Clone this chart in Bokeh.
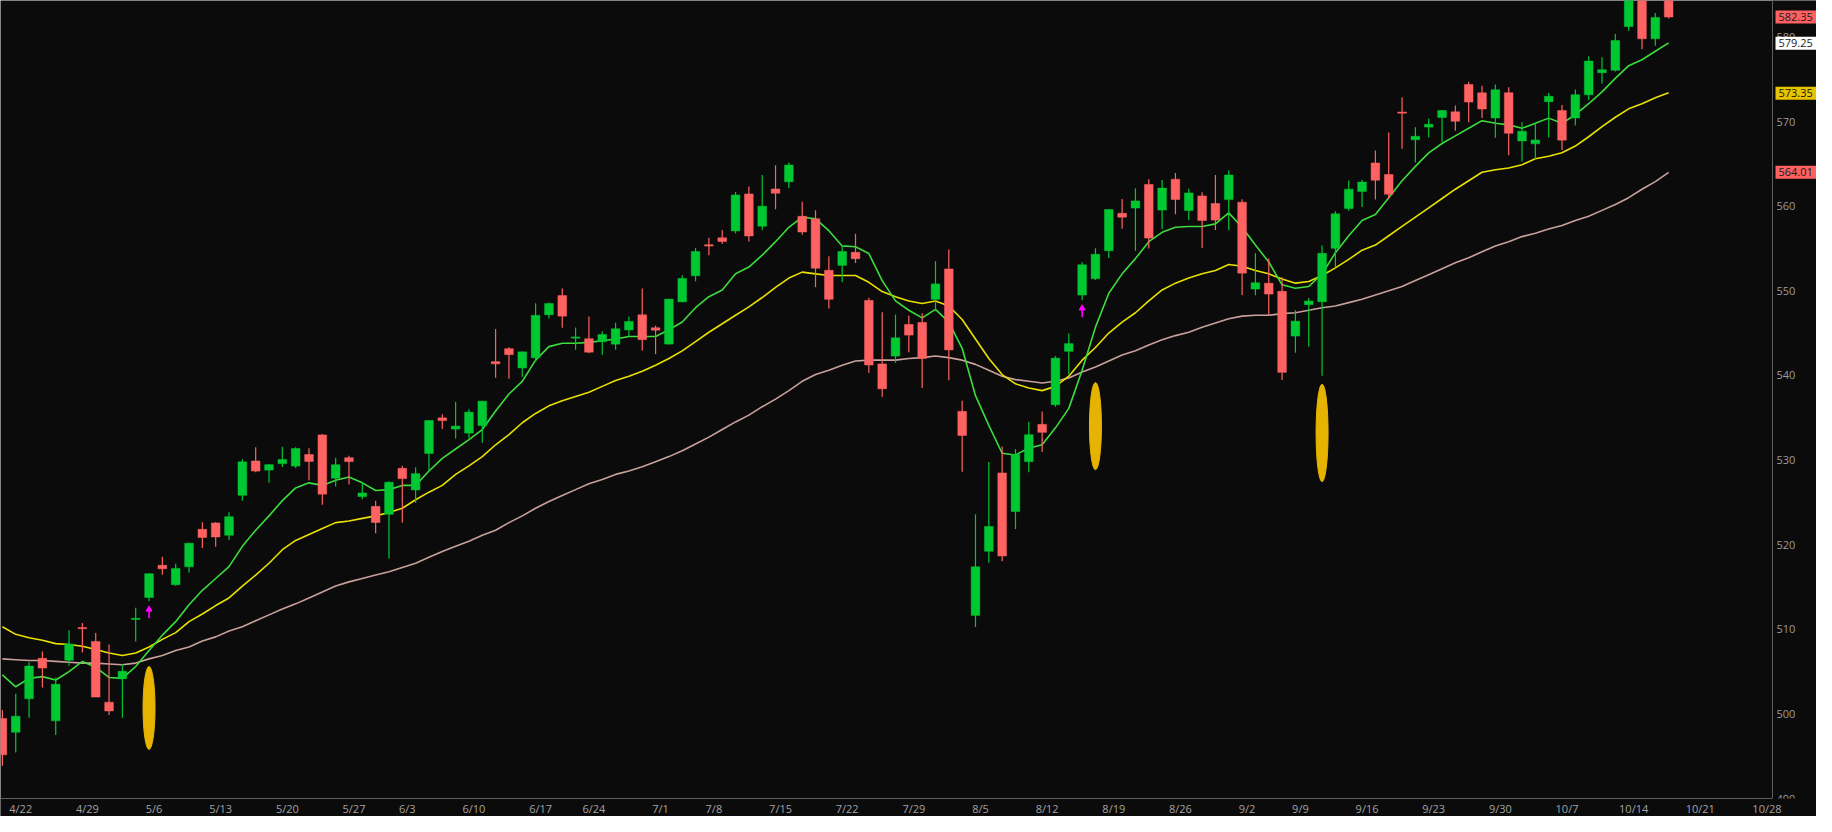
from bokeh.plotting import figure
from bokeh.models import Range1d, ColumnDataSource
from bokeh.embed import file_html
from bokeh.resources import INLINE
from bokeh.core.properties import value

# ---------------- data ----------------
dates = ["4/19", "4/22", "4/23", "4/24", "4/25", "4/26", "4/29", "4/30",
         "5/1", "5/2", "5/3", "5/6", "5/7", "5/8", "5/9", "5/10",
         "5/13", "5/14", "5/15", "5/16", "5/17", "5/20", "5/21", "5/22", "5/23", "5/24",
         "5/28", "5/29", "5/30", "5/31",
         "6/3", "6/4", "6/5", "6/6", "6/7", "6/10", "6/11", "6/12", "6/13", "6/14",
         "6/17", "6/18", "6/20", "6/21", "6/24", "6/25", "6/26", "6/27", "6/28",
         "7/1", "7/2", "7/3", "7/5", "7/8", "7/9", "7/10", "7/11", "7/12",
         "7/15", "7/16", "7/17", "7/18", "7/19", "7/22", "7/23", "7/24", "7/25", "7/26",
         "7/29", "7/30", "7/31", "8/1", "8/2",
         "8/5", "8/6", "8/7", "8/8", "8/9", "8/12", "8/13", "8/14", "8/15", "8/16",
         "8/19", "8/20", "8/21", "8/22", "8/23", "8/26", "8/27", "8/28", "8/29", "8/30",
         "9/3", "9/4", "9/5", "9/6", "9/9", "9/10", "9/11", "9/12", "9/13",
         "9/16", "9/17", "9/18", "9/19", "9/20", "9/23", "9/24", "9/25", "9/26", "9/27",
         "9/30", "10/1", "10/2", "10/3", "10/4", "10/7", "10/8", "10/9", "10/10", "10/11",
         "10/14", "10/15", "10/16", "10/17"]

opens = [499.44, 497.83, 501.78, 506.56, 499.18, 506.35, 510.09, 508.56,
         501.38, 504.15, 511.16, 513.75, 517.56, 515.26, 517.38, 521.81,
         522.56, 521.11, 525.83, 529.88, 528.81, 529.57, 529.28, 530.65, 532.96, 527.85,
         530.27, 525.68, 524.52, 523.59,
         529.02, 526.46, 530.77, 534.98, 533.66, 533.18, 534.07, 541.63, 543.15, 540.88,
         542.08, 547.16, 549.44, 544.40, 544.33, 543.99, 543.69, 545.37, 547.16,
         545.63, 543.70, 548.69, 551.77, 555.44, 556.26, 557.07, 561.44, 557.63,
         562.03, 562.87, 558.80, 558.51, 552.42, 553.00, 554.54, 548.86, 541.35, 542.28,
         546.02, 546.26, 548.98, 552.57, 535.75,
         511.64, 519.22, 528.47, 523.91, 529.81, 534.21, 536.53, 542.85, 549.50, 551.42,
         554.73, 559.15, 559.77, 562.56, 559.53, 563.18, 559.49, 561.21, 560.31, 560.77,
         560.47, 550.20, 550.89, 549.94, 544.65, 548.36, 548.70, 555.01, 559.71,
         561.74, 565.10, 563.74, 571.01, 567.84, 569.34, 570.48, 571.14, 574.38, 573.39,
         570.42, 573.40, 567.71, 567.36, 572.35, 571.30, 570.42, 573.16, 575.77, 576.05,
         581.22, 584.59, 579.78, 585.91]

highs = [500.46, 502.38, 506.09, 507.37, 504.27, 509.88, 510.75, 509.56,
         508.19, 505.89, 512.55, 516.61, 518.57, 517.74, 520.21, 522.64,
         522.67, 523.83, 530.08, 531.52, 529.52, 531.56, 531.52, 531.38, 533.07, 530.27,
         530.51, 527.31, 525.20, 527.50,
         529.31, 529.15, 534.69, 535.42, 536.89, 535.99, 537.01, 545.47, 543.33, 542.81,
         548.53, 548.62, 550.28, 545.65, 546.95, 545.20, 546.24, 546.96, 550.28,
         545.88, 549.01, 551.83, 555.05, 556.25, 557.18, 561.67, 562.33, 563.67,
         564.84, 565.16, 560.51, 559.52, 554.08, 555.27, 556.74, 549.17, 547.46, 547.19,
         547.05, 547.34, 553.50, 554.87, 536.99,
         523.58, 529.75, 531.59, 531.29, 534.51, 535.73, 542.28, 544.96, 553.36, 555.02,
         559.61, 560.84, 562.11, 563.18, 563.09, 563.91, 562.06, 561.65, 563.68, 564.20,
         560.81, 554.43, 553.80, 551.60, 547.71, 549.15, 555.36, 559.40, 563.03,
         563.11, 566.58, 568.69, 572.88, 569.31, 570.33, 571.36, 571.89, 574.71, 574.22,
         574.38, 574.06, 569.90, 569.80, 573.36, 571.96, 573.78, 577.71, 577.58, 580.33,
         585.27, 584.90, 582.83, 586.12]

lows = [493.86, 495.43, 499.53, 503.13, 497.49, 505.70, 507.25, 501.98,
        499.87, 499.55, 508.56, 513.30, 516.45, 515.14, 516.71, 519.59,
        519.74, 520.56, 525.18, 528.54, 527.32, 529.17, 529.07, 527.60, 524.72, 526.88,
        527.11, 525.37, 521.33, 518.36,
        522.60, 524.96, 528.73, 533.67, 532.54, 532.57, 532.05, 539.71, 539.59, 539.85,
        541.61, 546.73, 545.64, 543.02, 542.62, 542.44, 543.03, 544.61, 542.95,
        542.52, 543.65, 548.65, 551.12, 554.19, 555.52, 556.77, 555.83, 557.15,
        559.63, 562.10, 556.61, 550.43, 547.91, 551.02, 553.28, 540.29, 537.45, 541.49,
        542.72, 538.52, 547.58, 539.43, 528.60,
        510.27, 517.87, 518.05, 521.84, 528.56, 530.95, 536.28, 540.12, 548.88, 551.26,
        553.86, 557.33, 554.73, 554.98, 557.29, 559.05, 558.32, 555.04, 557.18, 557.14,
        549.51, 549.46, 547.10, 539.44, 542.68, 543.38, 539.96, 552.74, 559.45,
        559.90, 560.79, 560.83, 566.77, 565.17, 568.10, 567.60, 568.91, 569.90, 570.42,
        568.08, 566.00, 565.27, 565.49, 568.10, 566.63, 569.53, 572.55, 574.49, 575.91,
        580.73, 578.54, 578.96, 582.16]

closes = [495.16, 499.72, 505.65, 505.41, 503.49, 508.26, 510.06, 501.98,
          500.35, 505.03, 511.29, 516.57, 517.14, 517.19, 520.17, 520.84,
          520.91, 523.30, 529.78, 528.69, 529.45, 530.06, 531.36, 529.83, 525.96, 529.44,
          529.81, 526.10, 522.61, 527.37,
          527.80, 528.39, 534.67, 534.66, 534.01, 535.66, 536.95, 541.36, 542.45, 542.78,
          547.10, 548.49, 547.00, 544.51, 542.74, 544.83, 545.51, 546.37, 544.22,
          545.34, 549.01, 551.46, 554.64, 555.28, 555.82, 561.32, 556.48, 559.99,
          561.53, 564.86, 556.94, 552.66, 548.99, 554.65, 553.78, 541.23, 538.41, 544.44,
          544.76, 542.00, 550.81, 543.01, 532.90,
          517.38, 522.15, 518.66, 530.65, 532.99, 533.27, 542.04, 543.75, 553.07, 554.31,
          559.61, 558.70, 560.62, 556.22, 562.13, 560.79, 561.56, 558.30, 558.35, 563.68,
          552.08, 550.95, 549.61, 540.36, 546.41, 548.79, 554.42, 559.09, 562.01,
          562.84, 563.07, 561.40, 570.98, 568.25, 569.67, 571.30, 570.04, 572.30, 571.47,
          573.76, 568.62, 568.86, 567.82, 572.98, 567.80, 573.17, 577.14, 576.13, 579.58,
          584.32, 579.78, 582.30, 582.35]

# moving averages as drawn (fast green, mid yellow, slow tan)
ma_fast = [504.6, 503.2, 504.2, 504.4, 504.0, 505.0, 506.2, 505.5, 504.3, 504.2,
           505.6, 507.5, 509.3, 510.9, 512.9, 514.6, 516.0, 517.4, 519.8, 521.7,
           523.4, 525.2, 526.7, 527.3, 527.0, 527.6, 528.0, 527.3, 526.4, 526.5,
           527.0, 527.0, 528.7, 530.2, 531.3, 532.4, 533.6, 535.8, 537.8, 539.3,
           541.8, 543.4, 543.8, 543.8, 543.9, 544.1, 544.3, 544.6, 544.6, 544.6,
           545.4, 546.3, 548.0, 549.3, 550.1, 552.0, 552.8, 554.2, 555.8, 557.5,
           558.7, 558.5, 557.1, 555.3, 555.2, 554.4, 551.2, 548.8, 547.7, 546.8,
           547.8, 546.3, 543.2, 537.6, 534.1, 530.8, 530.6, 531.4, 531.8, 533.8,
           536.1, 540.6, 545.7, 549.7, 552.0, 553.8, 555.8, 556.9, 557.5, 557.6,
           557.6, 557.9, 559.2, 557.5, 555.4, 553.4, 550.7, 550.3, 550.5, 552.0,
           554.5, 556.5, 558.3, 559.0, 561.0, 563.0, 564.7, 566.3, 567.4, 568.3,
           569.2, 570.1, 569.8, 569.6, 569.2, 569.8, 570.4, 569.8, 570.8, 572.1,
           573.5, 575.1, 576.6, 577.3, 578.3, 579.3]

ma_mid = [510.3, 509.4, 509.0, 508.7, 508.3, 508.2, 508.0, 507.6, 507.2, 506.9,
          507.2, 507.9, 508.8, 509.6, 510.9, 511.8, 512.8, 513.7, 515.1, 516.4,
          517.8, 519.4, 520.5, 521.2, 521.9, 522.6, 522.8, 523.1, 523.4, 523.8,
          524.3, 525.3, 526.2, 527.0, 528.3, 529.3, 530.4, 531.8, 533.0, 534.4,
          535.5, 536.4, 537.0, 537.5, 538.0, 538.7, 539.4, 539.9, 540.5, 541.2,
          542.0, 542.9, 544.0, 545.1, 546.1, 547.1, 548.1, 549.2, 550.4, 551.5,
          552.2, 552.0, 551.8, 551.8, 551.8, 551.0, 549.9, 549.3, 548.8, 548.5,
          548.8, 548.2, 546.6, 544.3, 542.0, 540.1, 539.0, 538.5, 538.2, 538.7,
          539.9, 541.8, 543.3, 545.0, 546.3, 547.4, 548.8, 550.1, 550.9, 551.5,
          552.0, 552.4, 553.1, 552.9, 552.4, 552.0, 551.4, 550.9, 551.1, 551.8,
          552.7, 553.7, 554.8, 555.4, 556.5, 557.6, 558.7, 559.8, 560.9, 562.0,
          563.0, 564.0, 564.3, 564.5, 564.9, 565.6, 565.9, 566.3, 567.1, 568.2,
          569.4, 570.5, 571.5, 572.1, 572.8, 573.4]

ma_slow = [506.5, 506.4, 506.3, 506.3, 506.2, 506.1, 506.0, 506.0, 505.9, 505.8,
           506.0, 506.5, 506.9, 507.5, 507.9, 508.6, 509.1, 509.8, 510.3, 511.0,
           511.7, 512.4, 513.0, 513.7, 514.4, 515.1, 515.6, 516.0, 516.4, 516.8,
           517.3, 517.8, 518.5, 519.2, 519.8, 520.4, 521.1, 521.7, 522.6, 523.4,
           524.3, 525.1, 525.8, 526.5, 527.2, 527.7, 528.3, 528.7, 529.2, 529.8,
           530.4, 531.1, 531.9, 532.7, 533.6, 534.5, 535.3, 536.3, 537.2, 538.2,
           539.3, 540.1, 540.6, 541.2, 541.7, 541.8, 541.8, 541.8, 542.0, 542.1,
           542.3, 542.1, 541.8, 541.3, 540.6, 539.9, 539.5, 539.3, 539.1, 539.3,
           539.7, 540.4, 541.0, 541.7, 542.4, 542.9, 543.6, 544.2, 544.7, 545.1,
           545.7, 546.2, 546.7, 547.0, 547.1, 547.1, 547.3, 547.4, 547.7, 548.0,
           548.2, 548.6, 549.0, 549.5, 550.0, 550.5, 551.2, 551.9, 552.6, 553.3,
           553.9, 554.6, 555.3, 555.8, 556.4, 556.8, 557.3, 557.7, 558.3, 558.8,
           559.5, 560.2, 561.0, 562.0, 562.9, 564.0]

week_labels = ["4/22", "4/29", "5/6", "5/13", "5/20", "5/27", "6/3", "6/10", "6/17", "6/24",
               "7/1", "7/8", "7/15", "7/22", "7/29", "8/5", "8/12", "8/19", "8/26", "9/2",
               "9/9", "9/16", "9/23", "9/30", "10/7", "10/14", "10/21", "10/28"]
week_start = [1, 6, 11, 16, 21, 26, 30, 35, 40, 44,
              49, 53, 58, 63, 68, 73, 78, 83, 88, 93,
              97, 102, 107, 112, 117, 122, 127, 132]

price_ticks = [490, 500, 510, 520, 530, 540, 550, 560, 570, 580]

arrow_days = [11, 81]                 # magenta up-arrows under candles
oval_days = [11, 82, 99]              # gold ovals
oval_center = [500.7, 534.0, 533.2]
oval_height = [9.8, 10.3, 11.5]

tag_values = [564.01, 573.35, 579.25, 582.35]
tag_texts = ["564.01", "573.35", "579.25", "582.35"]
tag_fill = ["#ff6161", "#e8c300", "#ffffff", "#ff6161"]

# ---------------- styling / layout ----------------
BG = "#0b0b0b"
UP = "#00c832"
DOWN = "#ff6262"
FONT = "Open Sans"
AXIS_GREY = "#5e5e5e"

W, H = 1816, 816
PX = 13.33               # pixels per trading day
X_START = -1.9 / PX      # first candle sits ~2px from the left edge
PANE_W = 1772            # pixel width of the candle pane
X_AXIS = X_START + PANE_W / PX       # where the price scale starts
X_END = X_START + W / PX             # frame spans the price-scale strip too

PRICE_BASE = 490.0       # bottom of the price pane (time axis line)
PRICE_TOP = 584.3        # price at the top edge
BASE_PX = 798            # pixel row of the time-axis line
PX_Y = BASE_PX / (PRICE_TOP - PRICE_BASE)
Y_END = PRICE_TOP
Y_START = Y_END - H / PX_Y

p = figure(width=W, height=H, output_backend="svg", toolbar_location=None, title=None,
           x_range=Range1d(X_START, X_END), y_range=Range1d(Y_START, Y_END),
           x_axis_location=None, y_axis_location=None,
           min_border_left=0, min_border_top=0, min_border_right=0, min_border_bottom=0)
p.background_fill_color = BG
p.border_fill_color = BG
p.outline_line_color = None
p.grid.visible = False

n = len(dates)
idx = list(range(n))
inc = [c >= o for o, c in zip(opens, closes)]
colors = [UP if u else DOWN for u in inc]
tops = [max(o, c) for o, c in zip(opens, closes)]
bots = [min(o, c) for o, c in zip(opens, closes)]
tops = [t if t - b >= 0.14 else b + 0.14 for t, b in zip(tops, bots)]

src = ColumnDataSource(dict(x=idx, o=opens, h=highs, l=lows, c=closes,
                            top=tops, bot=bots, color=colors, date=dates))

# moving averages
p.line(idx, ma_slow, line_color="#c9a19c", line_width=1.6)
p.line(idx, ma_mid, line_color="#e9e000", line_width=1.6)
p.line(idx, ma_fast, line_color="#3ddc3d", line_width=1.6)

# candles
p.segment(x0="x", y0="l", x1="x", y1="h", line_color="color", line_width=1.2, source=src)
p.vbar(x="x", width=0.65, top="top", bottom="bot", fill_color="color",
       line_color="color", line_width=0.5, source=src)

# gold ovals
p.ellipse(x=oval_days, y=oval_center, width=12, height=oval_height,
          width_units="screen", height_units="data",
          fill_color="#e6b400", line_color="#e6b400")

# magenta arrows under the signal candles
a_tail = [lows[i] - 2.0 for i in arrow_days]
a_head = [lows[i] - 0.95 for i in arrow_days]
p.segment(x0=arrow_days, y0=a_tail, x1=arrow_days, y1=a_head,
          line_color="#ff00ff", line_width=1.6)
p.scatter(x=arrow_days, y=a_head, marker="triangle", size=6,
          fill_color="#ff00ff", line_color="#ff00ff")

# price scale strip on the right
p.quad(left=[X_AXIS], right=[X_END], bottom=[Y_START], top=[Y_END],
       fill_color=BG, line_color=None)
p.segment(x0=[X_AXIS], y0=[PRICE_BASE], x1=[X_AXIS], y1=[Y_END],
          line_color=AXIS_GREY, line_width=1)
p.text(x=[X_AXIS] * len(price_ticks), y=price_ticks, text=[str(t) for t in price_ticks],
       x_offset=4, text_align="left", text_baseline="middle",
       text_font=value(FONT), text_font_size="11px", text_color="#9b9b9b")

# price tags
tag_cx = X_AXIS + 23.5 / PX
p.rect(x=[tag_cx] * len(tag_values), y=tag_values, width=41, height=13,
       width_units="screen", height_units="screen",
       fill_color=tag_fill, line_color=None)
p.text(x=[X_AXIS] * len(tag_values), y=tag_values, text=tag_texts,
       x_offset=6, text_align="left", text_baseline="middle",
       text_font=value(FONT), text_font_size="11px", text_color="#1a1a1a")

# time axis strip at the bottom
p.quad(left=[X_START], right=[X_END], bottom=[Y_START], top=[PRICE_BASE],
       fill_color=BG, line_color=None)
p.segment(x0=[X_START], y0=[PRICE_BASE], x1=[X_AXIS], y1=[PRICE_BASE],
          line_color=AXIS_GREY, line_width=1)
tick_pos = [w + 0.375 for w in week_start]
p.text(x=tick_pos, y=[PRICE_BASE] * len(tick_pos), text=week_labels,
       y_offset=2, text_align="center", text_baseline="top",
       text_font=value(FONT), text_font_size="11px", text_color="#a3a3a3")

open("out.html", "w").write(file_html(p, INLINE))
